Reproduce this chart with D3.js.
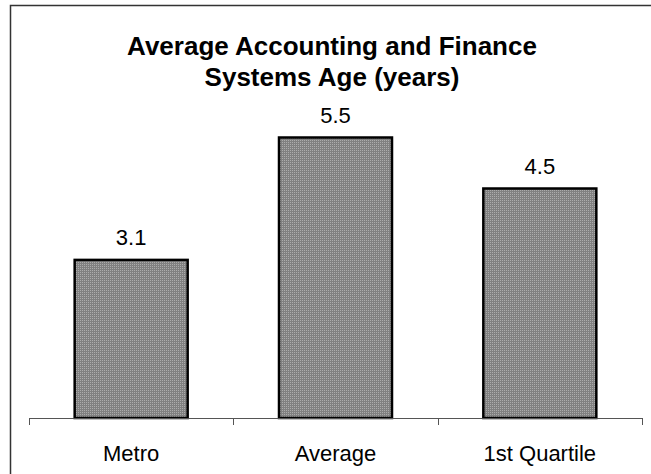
<!DOCTYPE html>
<html>
<head>
<meta charset="utf-8">
<script src="https://cdn.jsdelivr.net/npm/d3@7"></script>
<style>
  html, body { margin: 0; padding: 0; background: #fff; }
  svg { display: block; }
</style>
</head>
<body>
<svg id="chart" width="651" height="474"></svg>
<script>
// Chart data
const categories = ["Metro", "Average", "1st Quartile"];
const values = [3.1, 5.5, 4.5];
const titleLines = ["Average Accounting and Finance", "Systems Age (years)"];

const svg = d3.select("#chart");
const W = 651, H = 474;
const font = "'Liberation Sans', Arial, Helvetica, sans-serif";

// Dotted grey fill used by the bars
const defs = svg.append("defs");
const pat = defs.append("pattern")
  .attr("id", "dots")
  .attr("width", 2).attr("height", 2)
  .attr("patternUnits", "userSpaceOnUse");
pat.append("rect").attr("width", 2).attr("height", 2).attr("fill", "#808080");
pat.append("rect").attr("width", 1).attr("height", 1).attr("fill", "#acacac");

// Outer frame (runs off the right and bottom edges)
svg.append("rect")
  .attr("x", 10.5).attr("y", 5.5)
  .attr("width", W).attr("height", H)
  .attr("fill", "none")
  .attr("stroke", "#333").attr("stroke-width", 1.5);

// Plot area
const x0 = 29, x1 = 642, baseY = 418;
const x = d3.scaleBand().domain(categories).range([x0, x1]).paddingInner(0).paddingOuter(0);
const y = d3.scaleLinear().domain([0, 6]).range([baseY, baseY - 6 * 51]);
const barW = 113;

// Bars
svg.append("g").selectAll("rect")
  .data(values)
  .join("rect")
  .attr("x", (d, i) => x(categories[i]) + x.bandwidth() / 2 - barW / 2)
  .attr("y", d => y(d))
  .attr("width", barW)
  .attr("height", d => y(0) - y(d))
  .attr("fill", "url(#dots)")
  .attr("stroke", "#000")
  .attr("stroke-width", 2.5);

// Category axis with ticks between bands
const axis = svg.append("g").attr("transform", `translate(0,${baseY})`);
axis.append("line")
  .attr("x1", x0).attr("x2", x1)
  .attr("y1", 0.5).attr("y2", 0.5)
  .attr("stroke", "#555").attr("stroke-width", 1);
const tickXs = categories.map(c => x(c)).concat([x1]);
axis.selectAll("line.tick")
  .data(tickXs)
  .join("line")
  .attr("class", "tick")
  .attr("x1", d => Math.round(d) + 0.5).attr("x2", d => Math.round(d) + 0.5)
  .attr("y1", 0).attr("y2", 7)
  .attr("stroke", "#555");
axis.selectAll("text")
  .data(categories)
  .join("text")
  .attr("x", d => x(d) + x.bandwidth() / 2)
  .attr("y", 43)
  .attr("text-anchor", "middle")
  .attr("font-family", font)
  .attr("font-size", 22)
  .attr("fill", "#000")
  .text(d => d);

// Value labels above bars
svg.append("g").selectAll("text")
  .data(values)
  .join("text")
  .attr("x", (d, i) => x(categories[i]) + x.bandwidth() / 2)
  .attr("y", d => y(d) - 15)
  .attr("text-anchor", "middle")
  .attr("font-family", font)
  .attr("font-size", 22)
  .attr("fill", "#000")
  .text(d => d.toFixed(1));

// Title
svg.append("text")
  .attr("x", 332)
  .attr("y", 55)
  .attr("text-anchor", "middle")
  .attr("font-family", font)
  .attr("font-size", 26)
  .attr("font-weight", "bold")
  .selectAll("tspan")
  .data(titleLines)
  .join("tspan")
  .attr("x", 332)
  .attr("dy", (d, i) => i === 0 ? 0 : 31)
  .text(d => d);
</script>
</body>
</html>
